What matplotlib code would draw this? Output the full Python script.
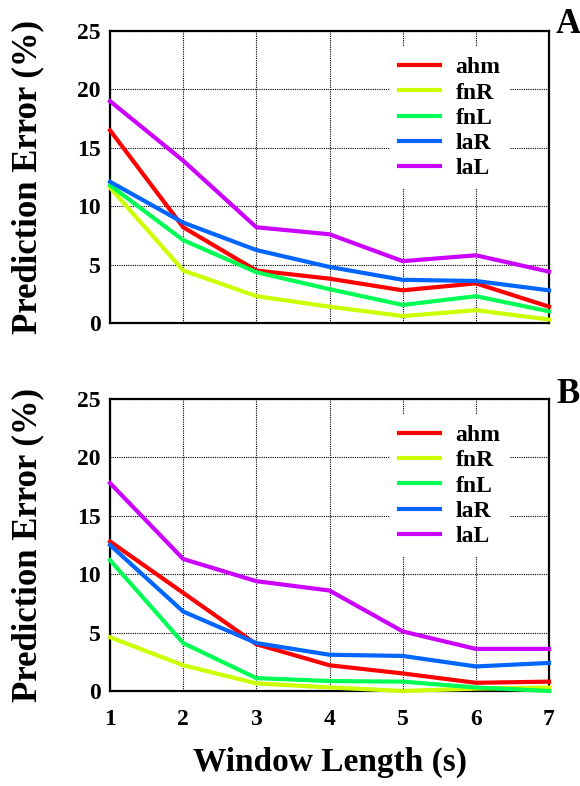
import numpy as np
import matplotlib
matplotlib.use("Agg")
import matplotlib.pyplot as plt

# window lengths (s)
window = [1, 2, 3, 4, 5, 6, 7]
series_names = ["ahm", "fnR", "fnL", "laR", "laL"]
series_colors = ["#ff0000", "#ccff00", "#00ff55", "#0066ff", "#cc00ff"]

# panel A - prediction error (%)
ahm_a = [16.5, 8.2, 4.5, 3.8, 2.8, 3.4, 1.4]
fnR_a = [11.6, 4.5, 2.3, 1.4, 0.6, 1.1, 0.3]
fnL_a = [11.8, 7.1, 4.35, 2.9, 1.55, 2.3, 1.0]
laR_a = [12.1, 8.6, 6.25, 4.8, 3.7, 3.6, 2.8]
laL_a = [19.0, 13.9, 8.2, 7.6, 5.3, 5.8, 4.4]

# panel B - prediction error (%)
ahm_b = [12.8, 8.4, 4.0, 2.2, 1.5, 0.7, 0.8]
fnR_b = [4.6, 2.2, 0.65, 0.3, 0.0, 0.2, 0.3]
fnL_b = [11.2, 4.1, 1.1, 0.85, 0.8, 0.3, 0.0]
laR_b = [12.5, 6.8, 4.1, 3.1, 3.0, 2.1, 2.4]
laL_b = [17.8, 11.3, 9.4, 8.6, 5.1, 3.6, 3.6]

yticks = [0, 5, 10, 15, 20, 25]

plt.rcParams['font.family'] = ['Liberation Serif', 'DejaVu Serif']
plt.rcParams['font.weight'] = 'bold'

fig = plt.figure(figsize=(5.8, 7.86), dpi=100)
ax_a = fig.add_axes([0.1897, 0.589, 0.7569, 0.3715])
ax_b = fig.add_axes([0.1897, 0.1209, 0.7569, 0.3715])


def draw_panel(ax, data, letter, letter_y, show_x):
    for name, vals, col in zip(series_names, data, series_colors):
        ax.plot(window, vals, color=col, lw=3.0, label=name, clip_on=False,
                solid_joinstyle='round', zorder=3)
    ax.set_xlim(1, 7)
    ax.set_ylim(0, 25)
    ax.set_xticks(window)
    ax.set_yticks(yticks)
    ax.grid(True, color='black', linestyle=(0, (1, 1)), linewidth=0.8)
    for s in ax.spines.values():
        s.set_linewidth(1.6)
    ax.tick_params(length=0, labelsize=17)
    ax.tick_params(axis='y', pad=6.5)
    ax.tick_params(axis='x', pad=13)
    if not show_x:
        ax.set_xticklabels([])
    ax.set_ylabel('Prediction Error (%)', fontsize=25, fontweight='bold', labelpad=24)
    leg = ax.legend(loc='upper left', bbox_to_anchor=(0.61, 0.985), frameon=True,
                    fontsize=17, handlelength=1.75, handletextpad=0.65,
                    labelspacing=0.16, borderpad=0.4, fancybox=False)
    leg.get_frame().set_facecolor('white')
    leg.get_frame().set_edgecolor('none')
    leg.get_frame().set_alpha(1)
    leg.set_zorder(5)
    fig.text(556 / 580, letter_y, letter, fontsize=25, fontweight='bold', ha='left', va='baseline')


draw_panel(ax_a, [ahm_a, fnR_a, fnL_a, laR_a, laL_a], 'A', (786 - 33) / 786, False)
draw_panel(ax_b, [ahm_b, fnR_b, fnL_b, laR_b, laL_b], 'B', (786 - 403) / 786, True)
ax_b.set_xlabel('Window Length (s)', fontsize=24, fontweight='bold', labelpad=12)

fig.savefig('out.png', dpi=100)
